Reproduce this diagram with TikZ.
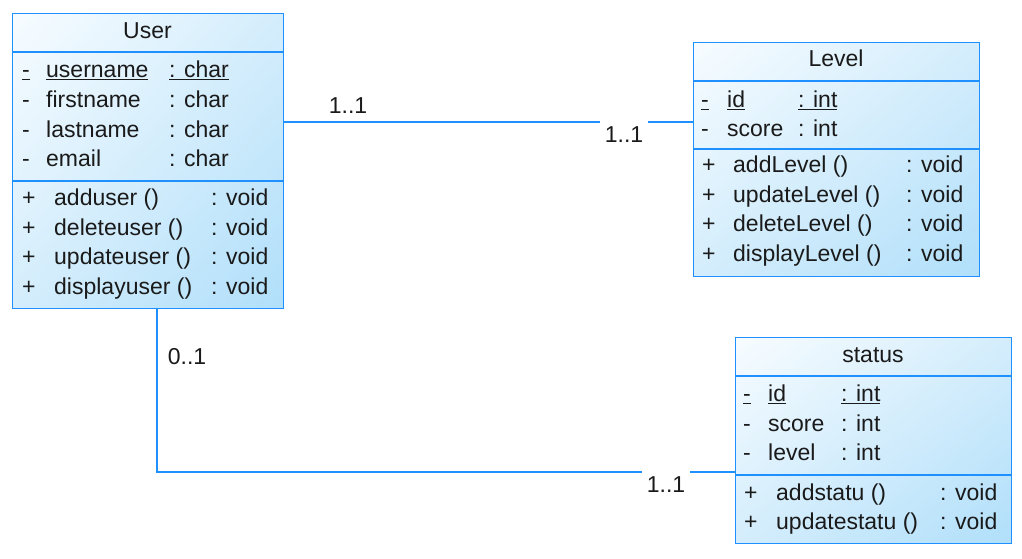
\documentclass[tikz,border=0pt]{standalone}
\usepackage{fontspec}
\setmainfont{Liberation Sans}
\usetikzlibrary{shadings}
\definecolor{umlblue}{RGB}{30,144,255}
\definecolor{fillA}{HTML}{F7FCFF}
\definecolor{fillB}{HTML}{D4EDFC}
\definecolor{fillC}{HTML}{B0DFFA}
\definecolor{ink}{HTML}{1A1A1A}
\tikzset{
  classbox/.style={draw=umlblue, line width=1.4pt, inner sep=0pt, anchor=north west,
    shade, upper left=fillA, upper right=fillB, lower left=fillB, lower right=fillC},
  sepline/.style={draw=umlblue, line width=1.4pt},
  conn/.style={draw=umlblue, line width=1.3pt},
  txt/.style={anchor=base west, inner sep=0pt, font=\fontsize{23}{28}\selectfont, text=ink},
  ttl/.style={anchor=base, inner sep=0pt, font=\fontsize{23}{28}\selectfont, text=ink},
  mult/.style={inner sep=2pt, font=\fontsize{23}{28}\selectfont, text=ink},
  multcut/.style={mult, fill=white, inner xsep=5pt, inner ysep=8pt}
}
\newcommand\umlrow[8]{%
  \node[txt] (#1a) at (#2,#5) {#6};
  \node[txt] (#1b) at (#3,#5) {#7};
  \node[txt] (#1c) at (#4,#5) {#8};}
\begin{document}
\begin{tikzpicture}[x=1pt,y=-1pt]
\useasboundingbox[fill=white] (0,0) rectangle (1022,559);

% ---------- class boxes ----------
\node[classbox, minimum width=271pt, minimum height=295pt] (User) at (12,13) {};
\node[classbox, minimum width=286pt, minimum height=234pt] (Level) at (693,42) {};
\node[classbox, minimum width=276pt, minimum height=206pt] (Status) at (735,337) {};

\draw[sepline] ([yshift=-39pt]User.north west) -- ([yshift=-39pt]User.north east);
\draw[sepline] ([yshift=-168pt]User.north west) -- ([yshift=-168pt]User.north east);
\draw[sepline] ([yshift=-39pt]Level.north west) -- ([yshift=-39pt]Level.north east);
\draw[sepline] ([yshift=-107pt]Level.north west) -- ([yshift=-107pt]Level.north east);
\draw[sepline] ([yshift=-39pt]Status.north west) -- ([yshift=-39pt]Status.north east);
\draw[sepline] ([yshift=-138pt]Status.north west) -- ([yshift=-138pt]Status.north east);

% ---------- User ----------
\node[ttl] (UserT) at (147.5,38.3) {User};
\umlrow{ua1}{22}{46}{169}{78}{\underline{-}}{\underline{username}}{\underline{: char}}
\umlrow{ua2}{22}{46}{169}{107.5}{-}{firstname}{: char}
\umlrow{ua3}{22}{46}{169}{137}{-}{lastname}{: char}
\umlrow{ua4}{22}{46}{169}{166.5}{-}{email}{: char}
\umlrow{um1}{22}{54}{211}{205.5}{+}{adduser ()}{: void}
\umlrow{um2}{22}{54}{211}{235}{+}{deleteuser ()}{: void}
\umlrow{um3}{22}{54}{211}{264.5}{+}{updateuser ()}{: void}
\umlrow{um4}{22}{54}{211}{294}{+}{displayuser ()}{: void}

% ---------- Level ----------
\node[ttl] (LevelT) at (836,66.7) {Level};
\umlrow{la1}{701}{727}{798}{107.5}{\underline{-}}{\underline{id}}{\underline{: int}}
\umlrow{la2}{701}{727}{798}{136}{-}{score}{: int}
\umlrow{lm1}{702}{733}{906}{172.7}{+}{addLevel ()}{: void}
\umlrow{lm2}{702}{733}{906}{202.2}{+}{updateLevel ()}{: void}
\umlrow{lm3}{702}{733}{906}{231.7}{+}{deleteLevel ()}{: void}
\umlrow{lm4}{702}{733}{906}{261.2}{+}{displayLevel ()}{: void}

% ---------- status ----------
\node[ttl] (StatusT) at (873,362.7) {status};
\umlrow{sa1}{743}{768}{841}{401.7}{\underline{-}}{\underline{id}}{\underline{: int}}
\umlrow{sa2}{743}{768}{841}{431}{-}{score}{: int}
\umlrow{sa3}{743}{768}{841}{460.3}{-}{level}{: int}
\umlrow{sm1}{744}{776}{940}{500.5}{+}{addstatu ()}{: void}
\umlrow{sm2}{744}{776}{940}{529.5}{+}{updatestatu ()}{: void}

% ---------- connectors ----------
\coordinate (r1) at (0,122);
\coordinate (r2) at (157,472);
\draw[conn] (User.east |- r1) -- (Level.west |- r1);
\draw[conn] (User.south -| r2) -- (r2) -- (Status.west |- r2);

\node[mult] (m1) at (348,106) {1..1};
\node[multcut] (m2) at (624,135) {1..1};
\node[mult] (m3) at (187,357) {0..1};
\node[multcut] (m4) at (666,485) {1..1};
\end{tikzpicture}
\end{document}
